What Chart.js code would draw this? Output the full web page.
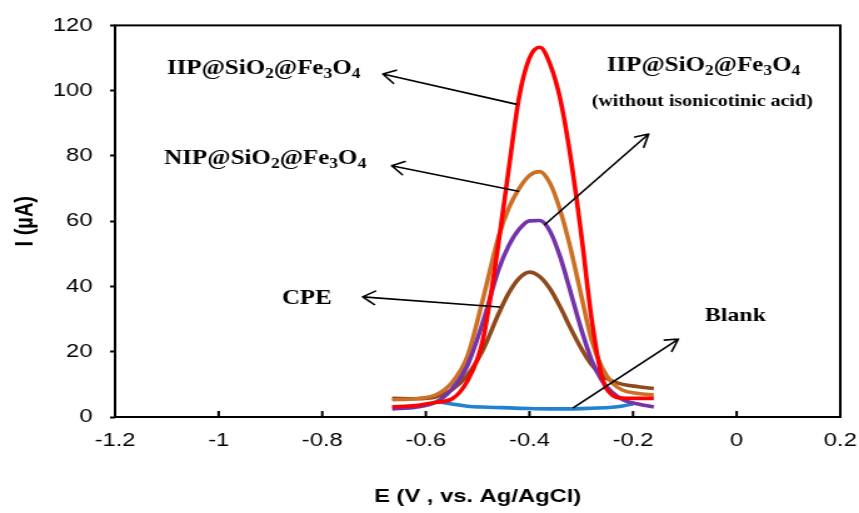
<!DOCTYPE html>
<html lang="en">
<head>
<meta charset="UTF-8">
<title>DPV curves</title>
<script src="https://cdn.jsdelivr.net/npm/chart.js"></script>
<style>
    html, body { margin: 0; padding: 0; background: #fff; overflow: hidden; }
    /* the original figure is stretched sideways, so the chart is drawn narrower and scaled */
    #wrap { width: 687px; height: 513px; transform: scaleX(1.2504); transform-origin: 0 0; }
</style>
</head>
<body>
<div id="wrap"><canvas id="chart"></canvas></div>
<script>
    const SX = 1.2504;

    const xTicks = [-1.2, -1, -0.8, -0.6, -0.4, -0.2, 0, 0.2];
    const yTicks = [0, 20, 40, 60, 80, 100, 120];

    // E (V vs. Ag/AgCl)
    const potentials = [-0.665, -0.62, -0.58, -0.55, -0.52, -0.49, -0.46, -0.44, -0.42, -0.40, -0.38,
        -0.36, -0.34, -0.32, -0.30, -0.28, -0.26, -0.24, -0.22, -0.19, -0.16];
    // I (uA)
    const iipCurrent = [3.1, 3.5, 4.5, 5.5, 11, 23.5, 53, 76, 98, 110, 113.3,
        108, 97, 79, 56, 30, 12.2, 6.7, 5.8, 5.7, 5.7];
    const nipCurrent = [5.3, 5.6, 6.8, 10.5, 18.5, 36, 55, 64, 70, 74, 75.2,
        71.5, 63, 51.2, 37.2, 23.5, 15.2, 10.4, 8.2, 7.2, 6.7];
    const noAcidCurrent = [2.5, 3.0, 4.6, 8.5, 15.7, 29, 45, 52.5, 57.5, 60.1, 60.2,
        56.8, 48.7, 37.9, 26.9, 17.4, 11.1, 7.5, 5.3, 4, 3.1];
    const cpeCurrent = [5.7, 5.6, 6.2, 8.3, 12.8, 20.5, 31.5, 38, 42.5, 44.4, 43,
        39.2, 33.5, 27, 21, 16, 12.8, 11, 10, 9.3, 8.7];
    const blankPotentials = [-0.58, -0.55, -0.52, -0.48, -0.44, -0.40, -0.36, -0.32, -0.28, -0.24, -0.22, -0.20];
    const blankCurrent = [4.8, 4.0, 3.3, 3.0, 2.8, 2.6, 2.5, 2.5, 2.7, 3.0, 3.4, 4.0];

    // annotation arrows: from curve [E, I] to head [E, I]
    const arrows = [
        [-0.4245, 95.8, -0.683, 105.1],
        [-0.4216, 69.2, -0.666, 77.0],
        [-0.458, 33.7, -0.722, 36.8],
        [-0.370, 59.0, -0.170, 86.7],
        [-0.315, 2.9, -0.1125, 23.9]
    ];

    const iipText = [['IIP@SiO', 0], ['2', 1], ['@Fe', 0], ['3', 1], ['O', 0], ['4', 1]];
    const nipText = [['NIP@SiO', 0], ['2', 1], ['@Fe', 0], ['3', 1], ['O', 0], ['4', 1]];
    const notes = [
        { parts: iipText, x: -1.100, y: 105.2, size: 20 },
        { parts: nipText, x: -1.105, y: 77.4, size: 20 },
        { parts: [['CPE', 0]], x: -0.878, y: 34.5, size: 20 },
        { parts: iipText, x: -0.251, y: 105.9, size: 20 },
        { parts: [['(without isonicotinic acid)', 0]], x: -0.280, y: 95.3, size: 16 },
        { parts: [['Blank', 0]], x: -0.061, y: 29.5, size: 19 }
    ];

    function points(xs, ys) {
        return xs.map((x, i) => ({ x: x, y: ys[i] }));
    }

    function curve(label, xs, ys, color, order) {
        return {
            label: label,
            data: points(xs, ys),
            borderColor: color,
            borderWidth: 3.6,
            pointRadius: 0,
            fill: false,
            cubicInterpolationMode: 'monotone',
            order: order
        };
    }

    function drawParts(ctx, parts, x, y, size) {
        let cx = x;
        parts.forEach(([txt, sub]) => {
            const fs = sub ? size * 0.7 : size;
            ctx.font = `bold ${fs}px "Liberation Serif"`;
            ctx.fillText(txt, cx, sub ? y + size * 0.2 : y);
            cx += ctx.measureText(txt).width;
        });
    }

    const extras = {
        id: 'extras',
        afterDatasetsDraw(chart) {
            const { ctx, chartArea: a, scales: { x, y } } = chart;
            ctx.save();
            ctx.strokeStyle = '#000';
            ctx.fillStyle = '#000';
            ctx.lineWidth = 2;
            ctx.strokeRect(a.left, a.top, a.right - a.left, a.bottom - a.top);

            // x ticks point into the plot
            ctx.beginPath();
            xTicks.slice(1, -1).forEach(v => {
                const px = x.getPixelForValue(v);
                ctx.moveTo(px, a.bottom);
                ctx.lineTo(px, a.bottom - 6);
            });
            ctx.stroke();

            ctx.lineWidth = 1.6;
            ctx.lineCap = 'round';
            arrows.forEach(([e0, i0, e1, i1]) => {
                const x0 = x.getPixelForValue(e0), y0 = y.getPixelForValue(i0);
                const x1 = x.getPixelForValue(e1), y1 = y.getPixelForValue(i1);
                ctx.beginPath();
                ctx.moveTo(x0, y0);
                ctx.lineTo(x1, y1);
                // head is worked out in the stretched picture space
                const ang = Math.atan2(y1 - y0, (x1 - x0) * SX);
                const len = 14, spread = 0.5;
                [ang + Math.PI - spread, ang + Math.PI + spread].forEach(t => {
                    ctx.moveTo(x1, y1);
                    ctx.lineTo(x1 + Math.cos(t) * len / SX, y1 + Math.sin(t) * len);
                });
                ctx.stroke();
            });

            ctx.textBaseline = 'alphabetic';
            ctx.textAlign = 'left';
            notes.forEach(n => {
                drawParts(ctx, n.parts, x.getPixelForValue(n.x), y.getPixelForValue(n.y), n.size);
            });
            ctx.restore();
        }
    };

    new Chart(document.getElementById('chart'), {
        type: 'line',
        data: {
            datasets: [
                curve('IIP@SiO2@Fe3O4', potentials, iipCurrent, '#ff0000', 1),
                curve('NIP@SiO2@Fe3O4', potentials, nipCurrent, '#cc7026', 3),
                curve('IIP@SiO2@Fe3O4 (without isonicotinic acid)', potentials, noAcidCurrent, '#7434a8', 2),
                curve('CPE', potentials, cpeCurrent, '#8e4a1c', 4),
                curve('Blank', blankPotentials, blankCurrent, '#2282d2', 5)
            ]
        },
        options: {
            responsive: true,
            maintainAspectRatio: false,
            animation: false,
            layout: { padding: { left: 0, right: 15, top: 21, bottom: 4 } },
            plugins: {
                legend: { display: false },
                tooltip: { enabled: false }
            },
            scales: {
                x: {
                    type: 'linear',
                    min: -1.2,
                    max: 0.2,
                    afterBuildTicks: s => { s.ticks = xTicks.map(v => ({ value: v })); },
                    afterFit: s => { s.height = 92; },
                    grid: { display: false, drawTicks: true, tickLength: 12 },
                    border: { display: false },
                    ticks: {
                        padding: 0,
                        color: '#000',
                        font: { family: 'Liberation Sans', size: 19 },
                        maxRotation: 0,
                        callback: v => String(Math.round(v * 10) / 10)
                    },
                    title: {
                        display: true,
                        text: 'E (V , vs. Ag/AgCl)',
                        color: '#000',
                        font: { family: 'Liberation Sans', size: 19, weight: 'bold' },
                        padding: { top: 0, bottom: 1 }
                    }
                },
                y: {
                    min: 0,
                    max: 120,
                    afterBuildTicks: s => { s.ticks = yTicks.map(v => ({ value: v })); },
                    afterFit: s => { s.width = 92; },
                    grid: { drawOnChartArea: false, drawTicks: true, tickLength: 4, tickColor: '#000', tickWidth: 2, color: '#000' },
                    border: { display: false },
                    ticks: {
                        padding: 14,
                        color: '#000',
                        font: { family: 'Liberation Sans', size: 19 }
                    },
                    title: {
                        display: true,
                        text: 'I (µA)',
                        color: '#000',
                        font: { family: 'Liberation Sans', size: 20, weight: 'bold' },
                        padding: { top: 8 }
                    }
                }
            }
        },
        plugins: [extras]
    });
</script>
</body>
</html>
